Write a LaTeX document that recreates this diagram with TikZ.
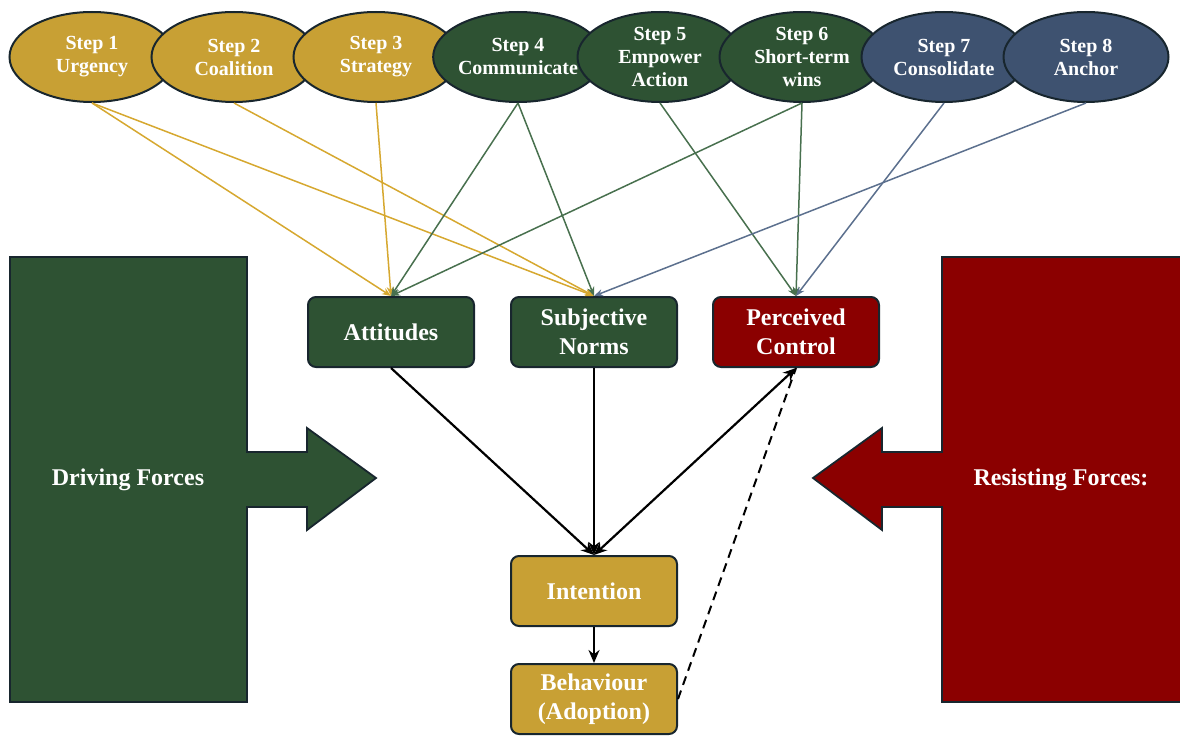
\documentclass[tikz,border=0pt]{standalone}
\usepackage{fontspec}
\setmainfont{Liberation Serif}
\usepackage{tikz}
\usetikzlibrary{arrows.meta,shapes.geometric}
\definecolor{kgold}{RGB}{200,160,52}
\definecolor{kgreen}{RGB}{46,82,51}
\definecolor{knavy}{RGB}{62,82,112}
\definecolor{kred}{RGB}{139,0,0}
\definecolor{kedge}{RGB}{24,38,46}
\definecolor{lgold}{RGB}{214,168,48}
\definecolor{lgreen}{RGB}{72,112,78}
\definecolor{lblue}{RGB}{92,112,142}
\tikzset{
  treenode/.style = {align=center, inner sep=0pt, text centered,
    font=\bfseries, text=white, draw=kedge, line width=2pt},
  step_y/.style = {treenode, ellipse, fill=kgold, minimum width=165pt,
    minimum height=90pt, font=\bfseries\fontsize{20}{23}\selectfont},% kotter, gold
  step_g/.style = {step_y, fill=kgreen},
  step_b/.style = {step_y, fill=knavy},
  box_g/.style = {treenode, rectangle, rounded corners=8pt, fill=kgreen,
    minimum width=166pt, minimum height=70pt,
    font=\bfseries\fontsize{24}{29}\selectfont},% theory of planned behaviour
  box_r/.style = {box_g, fill=kred},
  box_y/.style = {box_g, fill=kgold},
  force_g/.style = {fill=kgreen, draw=kedge, line width=1.8pt},
  force_r/.style = {fill=kred, draw=kedge, line width=1.8pt},
  force_txt/.style = {text=white, font=\bfseries\fontsize{24}{28}\selectfont},
  link_y/.style = {-{Stealth[length=9pt,width=7pt]}, draw=lgold, line width=1.5pt},
  link_g/.style = {link_y, draw=lgreen},
  link_b/.style = {link_y, draw=lblue},
  flow/.style = {-{Stealth[length=13pt,width=11pt]}, draw=black, line width=2.2pt}
}
\begin{document}
\begin{tikzpicture}[x=1pt,y=-1pt]
\useasboundingbox (0,0) rectangle (1180,738);
% force field
\filldraw[force_g] (10,257) -- (247,257) -- (247,452) -- (307,452) -- (307,428)
  -- (376,478) -- (307,530) -- (307,507) -- (247,507) -- (247,702) -- (10,702) -- cycle;
\node[force_txt] (drive) at (128,480) {Driving Forces};
\filldraw[force_r] (1190,257) -- (942,257) -- (942,452) -- (882,452) -- (882,428)
  -- (813,478) -- (882,530) -- (882,507) -- (942,507) -- (942,702) -- (1190,702) -- cycle;
\node[force_txt] (resist) at (1061,480) {Resisting Forces:};
% steps
\node[step_y] (s1) at (92,57) {Step 1\\Urgency};
\node[step_y] (s2) at (234,57) {Step 2\\Coalition};
\node[step_y] (s3) at (376,57) {Step 3\\Strategy};
\node[step_g] (s4) at (518,57) {Step 4\\Communicate};
\node[step_g] (s5) at (660,57) {Step 5\\Empower\\Action};
\node[step_g] (s6) at (802,57) {Step 6\\Short-term\\wins};
\node[step_b] (s7) at (944,57) {Step 7\\Consolidate};
\node[step_b] (s8) at (1086,57) {Step 8\\Anchor};
% tpb
\node[box_g] (att) at (391,332) {Attitudes};
\node[box_g] (norm) at (594,332) {Subjective\\Norms};
\node[box_r] (ctrl) at (796,332) {Perceived\\Control};
\node[box_y] (intent) at (594,591) {Intention};
\node[box_y] (behav) at (594,699) {Behaviour\\(Adoption)};
% links
\draw[link_y] (s1.south) -- (att.north);
\draw[link_y] (s1.south) -- (norm.north);
\draw[link_y] (s2.south) -- (norm.north);
\draw[link_y] (s3.south) -- (att.north);
\draw[link_g] (s4.south) -- (att.north);
\draw[link_g] (s4.south) -- (norm.north);
\draw[link_g] (s5.south) -- (ctrl.north);
\draw[link_g] (s6.south) -- (att.north);
\draw[link_g] (s6.south) -- (ctrl.north);
\draw[link_b] (s7.south) -- (ctrl.north);
\draw[link_b] (s8.south) -- (norm.north);
\draw[flow] (att.south) -- (intent.north);
\draw[flow] (norm.south) -- (intent.north);
\draw[flow, {Stealth[length=13pt,width=11pt]}-{Stealth[length=13pt,width=11pt]}] (ctrl.south) -- (intent.north);
\draw[flow] (intent.south) -- (behav.north);
\draw[line width=2pt, dash pattern=on 9pt off 6pt] (behav.east) -- (ctrl.south);
\end{tikzpicture}
\end{document}
